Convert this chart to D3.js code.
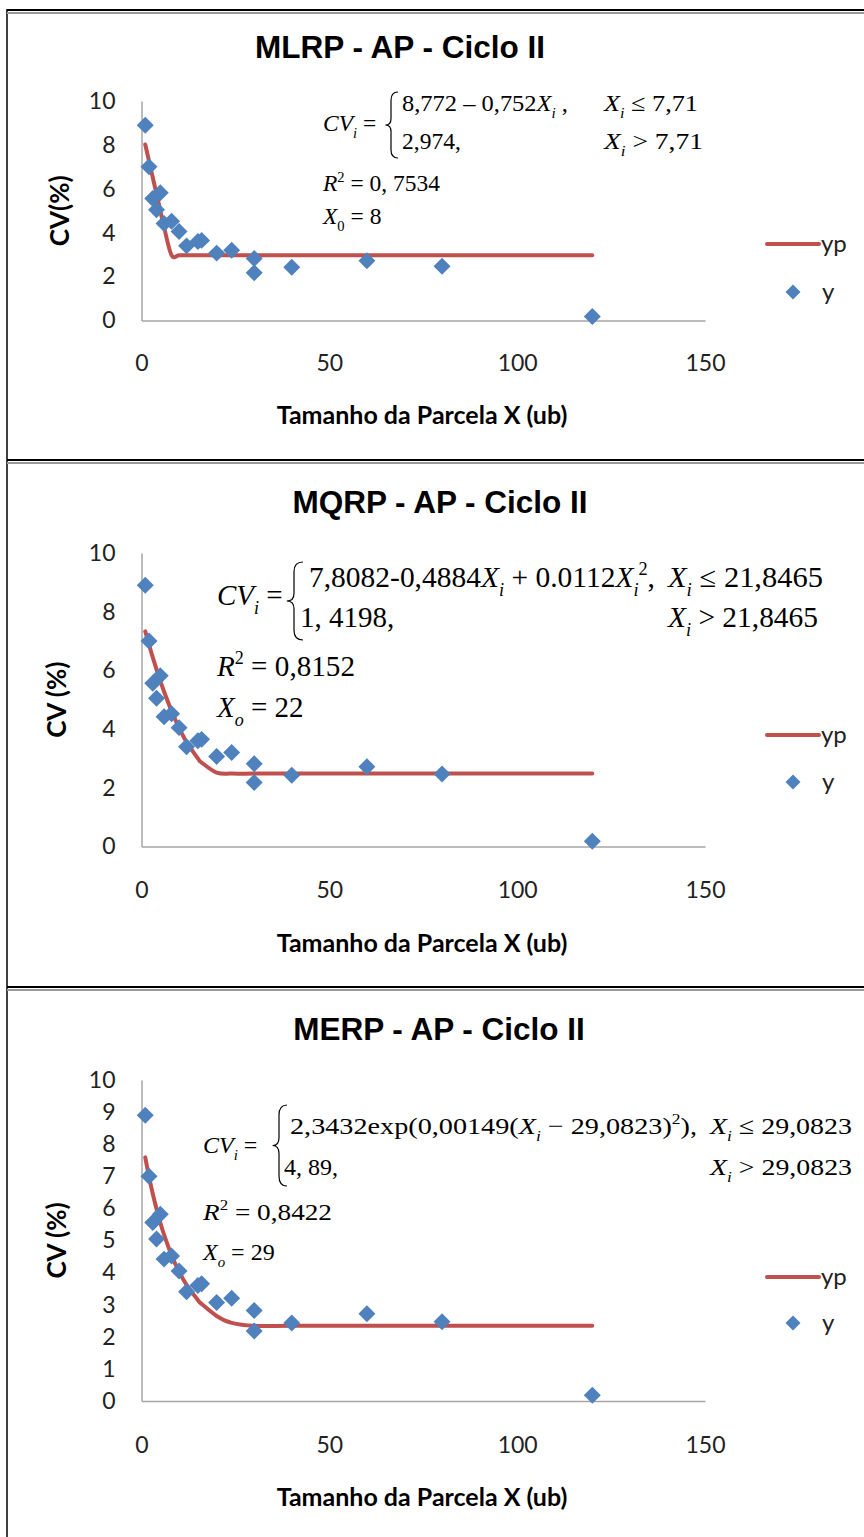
<!DOCTYPE html>
<html>
<head>
<meta charset="utf-8">
<script src="https://cdn.jsdelivr.net/npm/d3@7"></script>
<style>
  html, body { margin: 0; padding: 0; background: #fff; }
  svg { display: block; }
</style>
</head>
<body>
<script>
// ---------------- DATA ----------------
const plotSize = [1, 2, 3, 4, 5, 6, 8, 10, 12, 15, 16, 20, 24, 30, 30, 40, 60, 80, 120];
const cvObserved = [8.9, 7.0, 5.56, 5.05, 5.82, 4.42, 4.52, 4.05, 3.4, 3.6, 3.65, 3.07, 3.2, 2.82, 2.18, 2.43, 2.72, 2.47, 0.18];
const ypMLRP = [8.02, 7.268, 6.516, 5.764, 5.012, 4.26, 2.974, 2.974, 2.974, 2.974, 2.974, 2.974, 2.974, 2.974, 2.974, 2.974, 2.974, 2.974, 2.974];
const ypMQRP = [7.331, 6.876, 6.444, 6.034, 5.646, 5.281, 4.618, 4.044, 3.56, 3.002, 2.861, 2.52, 2.483, 2.483, 2.483, 2.483, 2.483, 2.483, 2.483];
const ypMERP = [7.59, 6.99, 6.457, 5.983, 5.561, 5.183, 4.544, 4.031, 3.62, 3.149, 3.023, 2.65, 2.435, 2.343, 2.343, 2.343, 2.343, 2.343, 2.343];
const xTicks = [0, 50, 100, 150];
const yTicks1 = [0, 2, 4, 6, 8, 10];
const yTicks2 = [0, 2, 4, 6, 8, 10];
const yTicks3 = [0, 1, 2, 3, 4, 5, 6, 7, 8, 9, 10];
const titles = ["MLRP - AP - Ciclo II", "MQRP - AP - Ciclo II", "MERP - AP - Ciclo II"];
const yTitles = ["CV(%)", "CV (%)", "CV (%)"];
const xTitle = "Tamanho da Parcela X (ub)";
const legendLabels = ["yp", "y"];

// ---------------- LAYOUT ----------------
const W = 864, H = 1537;
const RED = "#C0504D", BLUE = "#4F81BD", AXIS = "#A6A6A6";
const SANS = "Lato, 'Open Sans', sans-serif";
const TITLEF = "'Liberation Sans', Arial, sans-serif";
const SERIF = "'Liberation Serif', 'Times New Roman', serif";

const svg = d3.select("body").append("svg").attr("width", W).attr("height", H);
svg.append("rect").attr("width", W).attr("height", H).attr("fill", "#fff");

// frame
svg.append("line").attr("x1", 7).attr("x2", 7).attr("y1", 9).attr("y2", H).attr("stroke", "#000").attr("stroke-width", 1.5);
[[10, 13], [460, 463], [987, 990]].forEach(([a, b]) => {
  svg.append("line").attr("x1", 7).attr("x2", W).attr("y1", a).attr("y2", a).attr("stroke", "#000").attr("stroke-width", 2);
  svg.append("line").attr("x1", 7).attr("x2", W).attr("y1", b).attr("y2", b).attr("stroke", "#999").attr("stroke-width", 2);
});

const panels = [
  { title: titles[0], titleX: 400, titleY: 47, y0: 320.5, y10: 101, yTicks: yTicks1, yp: ypMLRP, yTitle: yTitles[0],
    tickY: 363, xTitleY: 415, yTitleX: 60, legLineY: 244, legDotY: 292 },
  { title: titles[1], titleX: 440, titleY: 502, y0: 846.5, y10: 553, yTicks: yTicks2, yp: ypMQRP, yTitle: yTitles[1],
    tickY: 890, xTitleY: 943, yTitleX: 57, legLineY: 735, legDotY: 782 },
  { title: titles[2], titleX: 439, titleY: 1029, y0: 1401, y10: 1080, yTicks: yTicks3, yp: ypMERP, yTitle: yTitles[2],
    tickY: 1445, xTitleY: 1497, yTitleX: 57, legLineY: 1277, legDotY: 1323 }
];

const x = d3.scaleLinear().domain([0, 150]).range([141.5, 705]);

function rich(g, px, py, size, parts, width) {
  const t = g.append("text").attr("x", px).attr("y", py)
    .attr("font-family", SERIF).attr("font-size", size).attr("fill", "#000");
  let off = 0;
  parts.forEach(p => {
    const s = t.append("tspan").text(p.t);
    if (p.i) s.attr("font-style", "italic");
    let target = 0, fs = size;
    if (p.sub) { target = size * 0.3; fs = size * 0.62; }
    if (p.sup) { target = -size * 0.4; fs = size * 0.62; }
    s.attr("font-size", fs);
    if (target !== off) { s.attr("dy", target - off); off = target; }
  });
  if (width) t.attr("textLength", width).attr("lengthAdjust", "spacingAndGlyphs");
  return t;
}
function brace(g, bx, top, bottom, w) {
  const mid = (top + bottom) / 2;
  const p = d3.path();
  p.moveTo(bx + w, top);
  p.quadraticCurveTo(bx, top, bx, top + (mid - top) * 0.25);
  p.lineTo(bx, mid - (mid - top) * 0.2);
  p.quadraticCurveTo(bx, mid, bx - w * 0.8, mid);
  p.quadraticCurveTo(bx, mid, bx, mid + (bottom - mid) * 0.2);
  p.lineTo(bx, bottom - (bottom - mid) * 0.25);
  p.quadraticCurveTo(bx, bottom, bx + w, bottom);
  g.append("path").attr("d", p.toString()).attr("fill", "none").attr("stroke", "#000").attr("stroke-width", 1.2);
}

const diamond = d3.symbol().type(d3.symbolSquare).size(144);
const diamondLeg = d3.symbol().type(d3.symbolSquare).size(112);

panels.forEach((P, idx) => {
  const g = svg.append("g");
  const y = d3.scaleLinear().domain([0, 10]).range([P.y0, P.y10]);

  g.append("text").attr("x", P.titleX).attr("y", P.titleY).attr("dy", "0.35em")
    .attr("text-anchor", "middle").attr("font-family", TITLEF).attr("font-weight", "bold")
    .attr("font-size", 31.5).attr("fill", "#000").text(P.title);

  // axes
  const ya = g.append("g").attr("transform", `translate(${x(0)},0)`)
    .call(d3.axisLeft(y).tickValues(P.yTicks).tickSize(0).tickPadding(26).tickFormat(d3.format("d")));
  ya.select(".domain").attr("stroke", AXIS).attr("stroke-width", 1.5);
  ya.selectAll("text").attr("font-family", SANS).attr("font-size", 23).attr("fill", "#222");

  const xa = g.append("g").attr("transform", `translate(0,${P.y0})`)
    .call(d3.axisBottom(x).tickValues(xTicks).tickSize(0).tickFormat(d3.format("d")));
  xa.select(".domain").attr("stroke", AXIS).attr("stroke-width", 1.5);
  xa.selectAll("text").attr("font-family", SANS).attr("font-size", 23).attr("fill", "#222")
    .attr("y", P.tickY - P.y0).attr("dy", "0.35em");

  g.append("text").attr("x", 422).attr("y", P.xTitleY).attr("dy", "0.35em").attr("text-anchor", "middle")
    .attr("font-family", SANS).attr("font-weight", "bold").attr("font-size", 25).attr("fill", "#000").text(xTitle);
  const yMid = (P.y0 + P.y10) / 2;
  g.append("text").attr("transform", `translate(${P.yTitleX},${yMid}) rotate(-90)`).attr("dy", "0.35em")
    .attr("text-anchor", "middle").attr("font-family", SANS).attr("font-weight", "bold")
    .attr("font-size", 26).attr("fill", "#000").text(P.yTitle);

  // fitted line (drop repeated x values)
  const lineData = plotSize.map((d, i) => [d, P.yp[i]]).filter((d, i, a) => i === 0 || d[0] !== a[i - 1][0]);
  g.append("path").datum(lineData)
    .attr("d", d3.line().x(d => x(d[0])).y(d => y(d[1])).curve(d3.curveCatmullRom.alpha(0)))
    .attr("fill", "none").attr("stroke", RED).attr("stroke-width", 4).attr("stroke-linejoin", "round").attr("stroke-linecap", "round");

  // points
  g.selectAll("path.pt").data(plotSize.map((d, i) => [d, cvObserved[i]])).join("path").attr("class", "pt")
    .attr("d", diamond).attr("fill", BLUE)
    .attr("transform", d => `translate(${x(d[0])},${y(d[1])}) rotate(45)`);

  // legend
  g.append("line").attr("x1", 767).attr("x2", 819).attr("y1", P.legLineY).attr("y2", P.legLineY)
    .attr("stroke", RED).attr("stroke-width", 4).attr("stroke-linecap", "round");
  g.append("text").attr("x", 821).attr("y", P.legLineY).attr("dy", "0.35em").attr("font-family", SANS)
    .attr("font-size", 24).attr("fill", "#222").text(legendLabels[0]);
  g.append("path").attr("d", diamondLeg).attr("fill", BLUE)
    .attr("transform", `translate(793,${P.legDotY}) rotate(45)`);
  g.append("text").attr("x", 822).attr("y", P.legDotY).attr("dy", "0.35em").attr("font-family", SANS)
    .attr("font-size", 24).attr("fill", "#222").text(legendLabels[1]);
});

// ---------------- EQUATIONS ----------------
const eq = svg.append("g");
const Xi = [{ t: "X", i: true }, { t: "i", i: true, sub: true }];
// Panel 1
{
  const s = 23.5;
  rich(eq, 323, 131, s, [{ t: "CV", i: true }, { t: "i", i: true, sub: true }, { t: " =" }]);
  brace(eq, 391, 92, 158, 7);
  rich(eq, 402, 111, s, [{ t: "8,772 – 0,752" }, ...Xi, { t: " ," }], 166);
  rich(eq, 604, 111, s, [...Xi, { t: " ≤ 7,71" }], 94);
  rich(eq, 402, 149, s, [{ t: "2,974," }]);
  rich(eq, 604, 149, s, [...Xi, { t: " >  7,71" }], 99);
  rich(eq, 323, 191, s, [{ t: "R", i: true }, { t: "2", sup: true }, { t: " = 0, 7534" }], 117);
  rich(eq, 323, 224, s, [{ t: "X", i: true }, { t: "0", sub: true }, { t: " = 8" }]);
}
// Panel 2
{
  const s = 29;
  rich(eq, 217, 605, s, [{ t: "CV", i: true }, { t: "i", i: true, sub: true }, { t: " =" }]);
  brace(eq, 294, 562, 640, 9);
  rich(eq, 309, 587, s, [{ t: "7,8082-0,4884" }, ...Xi, { t: " +  0.0112" }, { t: "X", i: true }, { t: "i", i: true, sub: true }, { t: "2", sup: true }, { t: "," }], 346);
  rich(eq, 668, 587, s, [...Xi, { t: " ≤ 21,8465" }], 155);
  rich(eq, 300, 627, s, [{ t: "1, 4198," }]);
  rich(eq, 668, 627, s, [...Xi, { t: " > 21,8465" }], 150);
  rich(eq, 217, 676, s, [{ t: "R", i: true }, { t: "2", sup: true }, { t: " = 0,8152" }], 138);
  rich(eq, 217, 717, s, [{ t: "X", i: true }, { t: "o", i: true, sub: true }, { t: " = 22" }]);
}
// Panel 3
{
  const s = 24;
  rich(eq, 203, 1153, s, [{ t: "CV", i: true }, { t: "i", i: true, sub: true }, { t: " =" }]);
  brace(eq, 279, 1105, 1186, 8);
  rich(eq, 290, 1134, s, [{ t: "2,3432exp(0,00149(" }, ...Xi, { t: " −  29,0823)" }, { t: "2", sup: true }, { t: ")," }], 407);
  rich(eq, 710, 1134, s, [...Xi, { t: " ≤ 29,0823" }], 142);
  rich(eq, 284, 1175, s, [{ t: "4, 89," }]);
  rich(eq, 710, 1175, s, [...Xi, { t: " > 29,0823" }], 142);
  rich(eq, 203, 1220, s, [{ t: "R", i: true }, { t: "2", sup: true }, { t: " = 0,8422" }], 129);
  rich(eq, 203, 1260, s, [{ t: "X", i: true }, { t: "o", i: true, sub: true }, { t: " = 29" }]);
}
</script>
</body>
</html>
